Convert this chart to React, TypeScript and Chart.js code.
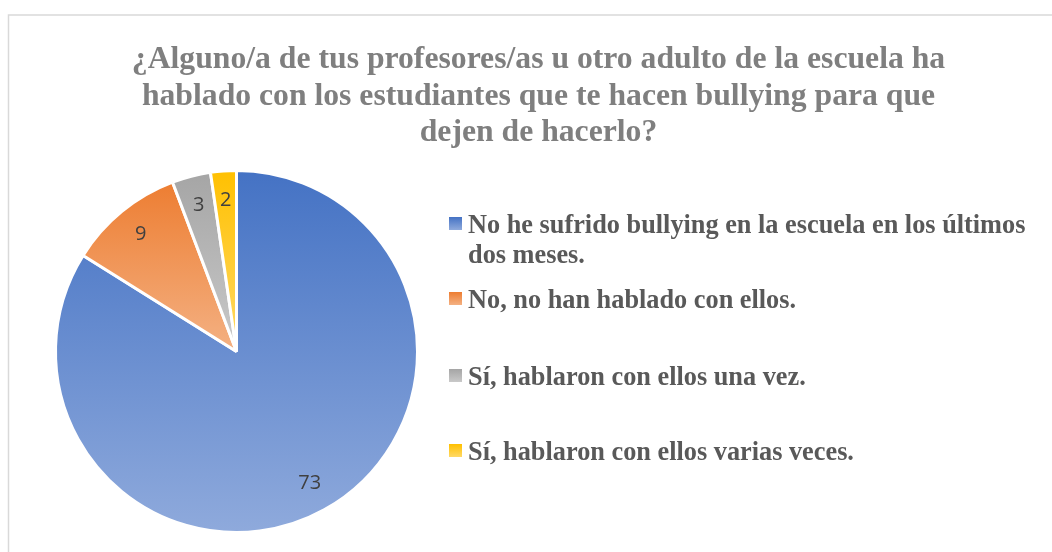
import { useEffect, useRef } from "react";
import { Chart, registerables } from "chart.js";

Chart.register(...registerables);

const titleLines = [
  "¿Alguno/a de tus profesores/as u otro adulto de la escuela ha",
  "hablado con los estudiantes que te hacen bullying para que",
  "dejen de hacerlo?",
];
const categories = [
  ["No he sufrido bullying en la escuela en los últimos", "dos meses."],
  ["No, no han hablado con ellos."],
  ["Sí, hablaron con ellos una vez."],
  ["Sí, hablaron con ellos varias veces."],
];
const values = [73, 9, 3, 2];
const topColors = ["#4472C4", "#ED7D31", "#A5A5A5", "#FFC000"];
const bottomColors = ["#8FAADC", "#F4B183", "#C9C9C9", "#FFD966"];

const TITLE_FONT = 'bold 31.7px "Liberation Serif", "Times New Roman", serif';
const LEGEND_FONT = 'bold 26.3px "Liberation Serif", "Times New Roman", serif';
const LABEL_FONT = '20px "Open Sans", "Liberation Sans", sans-serif';

function sliceGradient(ctx: any) {
  const chart = ctx.chart;
  const area = chart.chartArea;
  const i = ctx.dataIndex;
  if (!area || i === undefined) return topColors[i ?? 0];
  const cx = (area.left + area.right) / 2;
  const cy = (area.top + area.bottom) / 2;
  const R = Math.min(area.width, area.height) / 2;
  const data = chart.data.datasets[0].data as number[];
  const total = data.reduce((a, b) => a + b, 0);
  let acc = 0;
  for (let j = 0; j < i; j++) acc += data[j];
  const a0 = -Math.PI / 2 + (2 * Math.PI * acc) / total;
  const a1 = a0 + (2 * Math.PI * data[i]) / total;
  let minY = cy;
  let maxY = cy;
  for (const a of [a0, a1]) {
    const y = cy + R * Math.sin(a);
    minY = Math.min(minY, y);
    maxY = Math.max(maxY, y);
  }
  const contains = (t: number) => {
    for (let k = -1; k <= 2; k++) {
      const ang = t + 2 * Math.PI * k;
      if (ang >= a0 - 1e-9 && ang <= a1 + 1e-9) return true;
    }
    return false;
  };
  if (contains(-Math.PI / 2)) minY = cy - R;
  if (contains(Math.PI / 2)) maxY = cy + R;
  const g = chart.ctx.createLinearGradient(0, minY, 0, maxY);
  g.addColorStop(0, topColors[i]);
  g.addColorStop(1, bottomColors[i]);
  return g;
}

const decorPlugin = {
  id: "decor",
  beforeDraw(chart: any) {
    const c = chart.ctx;
    c.save();
    c.strokeStyle = "#D9D9D9";
    c.lineWidth = 1.5;
    c.beginPath();
    c.moveTo(8.5, 560);
    c.lineTo(8.5, 15);
    c.lineTo(1060, 15);
    c.stroke();
    c.restore();
  },
  afterDatasetsDraw(chart: any) {
    const c = chart.ctx;
    const meta = chart.getDatasetMeta(0);
    c.save();
    c.font = LABEL_FONT;
    c.fillStyle = "#404040";
    c.textAlign = "center";
    c.textBaseline = "middle";
    meta.data.forEach((arc: any, i: number) => {
      const p = arc.getProps(["x", "y", "startAngle", "endAngle", "outerRadius"], true);
      const mid = (p.startAngle + p.endAngle) / 2;
      const r = p.outerRadius * 0.835;
      c.fillText(String(values[i]), p.x + Math.cos(mid) * r, p.y + Math.sin(mid) * r);
    });
    c.restore();
  },
  afterDraw(chart: any) {
    const c = chart.ctx;
    c.save();
    // title
    c.font = TITLE_FONT;
    c.fillStyle = "#7F7F7F";
    c.textAlign = "center";
    c.textBaseline = "alphabetic";
    const titleBase = [68, 104.5, 141];
    titleLines.forEach((t, i) => c.fillText(t, 538.5, titleBase[i]));
    // legend
    const itemBase = [233, 308, 385, 460];
    c.font = LEGEND_FONT;
    c.textAlign = "left";
    categories.forEach((lines, i) => {
      const b = itemBase[i];
      const g = c.createLinearGradient(0, b - 16, 0, b - 3);
      g.addColorStop(0, topColors[i]);
      g.addColorStop(1, bottomColors[i]);
      c.fillStyle = g;
      c.fillRect(449, b - 16, 13, 13);
      c.fillStyle = "#595959";
      lines.forEach((ln, k) => c.fillText(ln, 468, b + k * 30));
    });
    c.restore();
  },
};

export default function App() {
  const ref = useRef<HTMLCanvasElement | null>(null);
  useEffect(() => {
    if (!ref.current) return;
    const chart = new Chart(ref.current, {
      type: "pie",
      data: {
        labels: categories.map((l) => l.join(" ")),
        datasets: [
          {
            data: values,
            backgroundColor: sliceGradient,
            borderColor: "#FFFFFF",
            borderWidth: 3,
          },
        ],
      },
      options: {
        responsive: false,
        animation: false,
        layout: { padding: { left: 54, right: 633, top: 169, bottom: 18 } },
        plugins: {
          legend: { display: false },
          title: { display: false },
          tooltip: { enabled: false },
        },
      },
      plugins: [decorPlugin],
    });
    return () => chart.destroy();
  }, []);
  return (
    <canvas
      ref={ref}
      width={1052}
      height={552}
      style={{ position: "absolute", left: 0, top: 0, width: 1052, height: 552 }}
    />
  );
}
